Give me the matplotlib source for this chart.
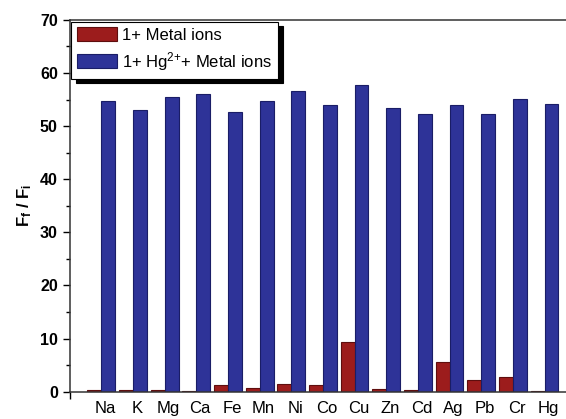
import numpy as np
import matplotlib
matplotlib.use('Agg')
import matplotlib.pyplot as plt
from matplotlib.ticker import MultipleLocator, FixedLocator
from matplotlib.transforms import ScaledTranslation

plt.rcParams['font.family'] = ['Liberation Sans', 'DejaVu Sans']
plt.rcParams['mathtext.default'] = 'regular'

metals = ['Na', 'K', 'Mg', 'Ca', 'Fe', 'Mn', 'Ni', 'Co', 'Cu', 'Zn', 'Cd', 'Ag', 'Pb', 'Cr', 'Hg']
# F_f / F_i of probe 1 with each metal ion alone
probe_only = [0.3, 0.3, 0.3, 0.1, 1.2, 0.7, 1.4, 1.25, 9.3, 0.45, 0.3, 5.6, 2.2, 2.8, 0.05]
# F_f / F_i of probe 1 + Hg2+ with each metal ion
probe_hg = [54.7, 53.0, 55.4, 56.0, 52.7, 54.7, 56.6, 53.9, 57.7, 53.5, 52.2, 53.9, 52.3, 55.1, 54.1]

x = np.arange(len(metals))
w = 0.44

fig = plt.figure(figsize=(5.66, 4.19), dpi=100)
ax = fig.add_axes([0.123, 0.0654, 0.895, 0.887])

ax.bar(x - w, probe_only, w, align='edge', color='#9c1c1c', edgecolor='#5e0e0e',
       linewidth=0.8, label='1+ Metal ions')
ax.bar(x, probe_hg, w, align='edge', color='#2e3398', edgecolor='#1a1d66',
       linewidth=0.8, label='1+ Hg$^{2{+}}$+ Metal ions')

ax.set_xlim(-1, 15)
ax.set_ylim(0, 70)

ax.set_xticks(x)
ax.set_xticklabels(metals, fontsize=12)
ax.tick_params(axis='x', which='major', length=0, pad=7)
# labels sit a little right of the category centre
shift = ScaledTranslation(4 / 100, 0, fig.dpi_scale_trans)
for lbl in ax.get_xticklabels():
    lbl.set_transform(lbl.get_transform() + shift)
ax.xaxis.set_minor_locator(FixedLocator(np.arange(-1, 16, 2)))
ax.tick_params(axis='x', which='minor', direction='out', length=5, width=1)

ax.yaxis.set_major_locator(MultipleLocator(10))
ax.yaxis.set_minor_locator(MultipleLocator(5))
ax.tick_params(axis='y', which='major', direction='out', length=5, width=1, labelsize=11.5)
ax.tick_params(axis='y', which='minor', direction='out', length=3, width=1)
for lbl in ax.get_yticklabels():
    lbl.set_fontweight('bold')

for s in ax.spines.values():
    s.set_linewidth(1.1)
    s.set_color('#333333')

ax.set_ylabel('F$_f$ / F$_i$', fontsize=12, fontweight='bold', labelpad=4)

leg = ax.legend(loc='upper left', bbox_to_anchor=(0, 1), borderaxespad=0.1,
                fontsize=12, frameon=True, fancybox=False,
                shadow={'color': 'black', 'alpha': 1, 'ox': 3.5, 'oy': -3.5},
                handlelength=2.4, handleheight=0.9, handletextpad=0.3,
                borderpad=0.35, labelspacing=0.4)
leg.get_frame().set_edgecolor('black')
leg.get_frame().set_linewidth(0.8)
leg.get_frame().set_alpha(1)

fig.savefig('out.png', dpi=100)
